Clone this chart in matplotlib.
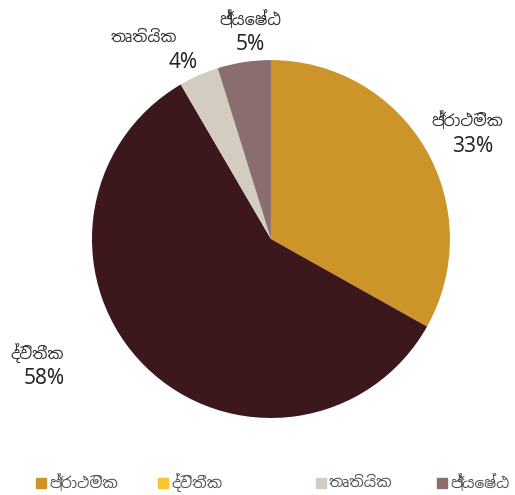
import matplotlib.pyplot as plt
import matplotlib.patches as mpatches
import numpy as np

names = ['ප්‍රාථමික', 'ද්විතීක', 'තෘතියික', 'ජ්‍යෙෂ්ඨ']
values = [33.1, 58.4, 3.6, 4.8]
slice_colors = ['#CC9429', '#3C181C', '#D3CCC0', '#8A6E6E']
legend_colors = ['#CC9429', '#FBC531', '#D3CCC0', '#8A6E6E']

plt.rcParams['font.family'] = ['Noto Sans Sinhala', 'Noto Sans', 'DejaVu Sans']

fig = plt.figure(figsize=(5.15, 4.95), dpi=100)
ax = fig.add_axes([0.1786, 0.1556, 0.695, 0.723])

wedges, _ = ax.pie(values, colors=slice_colors, startangle=90, counterclock=False,
                   wedgeprops=dict(linewidth=0))
ax.set_xlim(-1, 1)
ax.set_ylim(-1, 1)
ax.set_aspect('auto')

# label offsets tuned to the reference: radius factor, extra angle, name/pct x nudges
label_r = [1.26, 1.52, 1.23, 1.17]
label_shift = [-2, -18, 6, -3]
name_dx = [-0.01, 0.04, -0.1, 0.0]
pct_dx = [0.02, 0.08, 0.12, 0.0]
total = sum(values)
for i, w in enumerate(wedges):
    ang = np.deg2rad((w.theta1 + w.theta2) / 2 + label_shift[i])
    x, y = label_r[i] * np.cos(ang), label_r[i] * np.sin(ang)
    ax.text(x + name_dx[i], y + 0.01, names[i], ha='center', va='bottom',
            fontsize=11.5, color='#333333')
    ax.text(x + pct_dx[i], y - 0.02, f'{round(values[i] / total * 100)}%',
            ha='center', va='top', fontsize=15, color='#222222')

# legend drawn manually to match spacing
leg_x = [36, 158, 316, 437]
for lx, name, c in zip(leg_x, names, legend_colors):
    fig.patches.append(mpatches.Rectangle((lx / 515, (495 - 488) / 495), 10 / 515, 10 / 495,
                                          transform=fig.transFigure, color=c))
    fig.text((lx + 13) / 515, (495 - 483) / 495, name, ha='left', va='center',
             fontsize=11, color='#555555')

fig.savefig('out.png', dpi=100)
